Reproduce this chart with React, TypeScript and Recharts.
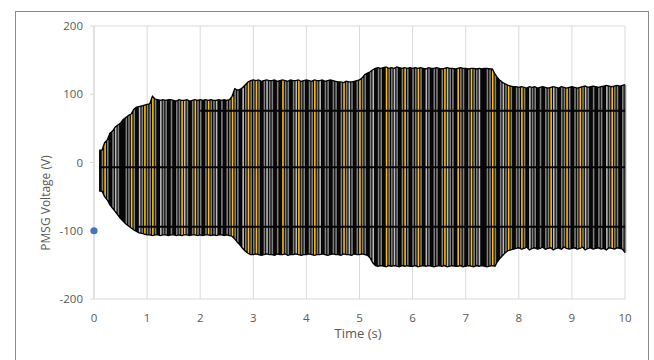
import {
  ComposedChart,
  Area,
  Bar,
  Cell,
  Line,
  Scatter,
  XAxis,
  YAxis,
  CartesianGrid,
  ReferenceLine,
} from 'recharts';

// sample instants (s), one visible stroke each
const strokeTimes = [
  0.1, 0.15, 0.2, 0.25, 0.3, 0.35, 0.4, 0.45, 0.5, 0.55, 0.6, 0.65, 0.7, 0.75, 0.8, 0.85, 0.9, 0.95,
  1.0, 1.05, 1.1, 1.15, 1.2, 1.25, 1.3, 1.35, 1.4, 1.45, 1.5, 1.55, 1.6, 1.65, 1.7, 1.75, 1.8, 1.85, 1.9, 1.95,
  2.0, 2.05, 2.1, 2.15, 2.2, 2.25, 2.3, 2.35, 2.4, 2.45, 2.5, 2.55, 2.6, 2.65, 2.7, 2.75, 2.8, 2.85, 2.9, 2.95,
  3.0, 3.05, 3.1, 3.15, 3.2, 3.25, 3.3, 3.35, 3.4, 3.45, 3.5, 3.55, 3.6, 3.65, 3.7, 3.75, 3.8, 3.85, 3.9, 3.95,
  4.0, 4.05, 4.1, 4.15, 4.2, 4.25, 4.3, 4.35, 4.4, 4.45, 4.5, 4.55, 4.6, 4.65, 4.7, 4.75, 4.8, 4.85, 4.9, 4.95,
  5.0, 5.05, 5.1, 5.15, 5.2, 5.25, 5.3, 5.35, 5.4, 5.45, 5.5, 5.55, 5.6, 5.65, 5.7, 5.75, 5.8, 5.85, 5.9, 5.95,
  6.0, 6.05, 6.1, 6.15, 6.2, 6.25, 6.3, 6.35, 6.4, 6.45, 6.5, 6.55, 6.6, 6.65, 6.7, 6.75, 6.8, 6.85, 6.9, 6.95,
  7.0, 7.05, 7.1, 7.15, 7.2, 7.25, 7.3, 7.35, 7.4, 7.45, 7.5, 7.55, 7.6, 7.65, 7.7, 7.75, 7.8, 7.85, 7.9, 7.95,
  8.0, 8.05, 8.1, 8.15, 8.2, 8.25, 8.3, 8.35, 8.4, 8.45, 8.5, 8.55, 8.6, 8.65, 8.7, 8.75, 8.8, 8.85, 8.9, 8.95,
  9.0, 9.05, 9.1, 9.15, 9.2, 9.25, 9.3, 9.35, 9.4, 9.45, 9.5, 9.55, 9.6, 9.65, 9.7, 9.75, 9.8, 9.85, 9.9, 9.95,
  10.0,
];

// positive peaks (V)
const upperPeaks = [
  18, 18, 29, 33, 43, 46, 52, 55, 58, 63, 66, 69, 71, 78, 81, 82, 83, 84,
  85, 86, 97, 93, 92, 91, 92, 91, 92, 92, 91, 90, 92, 91, 91, 92, 90, 91, 92, 91,
  92, 91, 92, 91, 92, 91, 91, 92, 91, 92, 91, 92, 97, 108, 106, 107, 110, 114, 118, 120,
  121, 120, 121, 119, 120, 121, 120, 120, 121, 119, 120, 121, 120, 119, 121, 120, 120, 121, 119, 120,
  121, 120, 119, 121, 120, 120, 121, 119, 120, 121, 120, 119, 118, 118, 117, 119, 118, 118, 119, 120,
  121, 124, 129, 131, 133, 136, 138, 139, 138, 139, 140, 138, 139, 138, 140, 139, 138, 139, 138, 139,
  138, 139, 138, 139, 138, 137, 139, 138, 138, 139, 138, 137, 138, 139, 138, 138, 137, 138, 139, 138,
  138, 137, 138, 138, 137, 138, 137, 138, 138, 137, 137, 130, 124, 120, 117, 115, 113, 112, 111, 111,
  110, 111, 110, 109, 111, 110, 111, 109, 110, 111, 110, 109, 110, 111, 110, 109, 111, 110, 109, 110,
  111, 110, 109, 110, 111, 112, 110, 111, 112, 111, 110, 111, 112, 113, 112, 111, 112, 113, 112, 113,
  114,
];

// negative peaks (V)
const lowerPeaks = [
  -42, -42, -50, -55, -62, -67, -72, -77, -82, -86, -90, -93, -96, -99, -101, -103, -104, -105,
  -106, -106, -107, -106, -106, -107, -106, -106, -107, -106, -106, -107, -106, -107, -106, -106, -107, -106, -106, -107,
  -106, -107, -106, -106, -107, -106, -107, -106, -106, -107, -106, -107, -108, -112, -117, -121, -126, -130, -133, -135,
  -135, -134, -135, -136, -135, -134, -135, -135, -136, -134, -135, -135, -134, -136, -135, -135, -134, -135, -136, -135,
  -135, -134, -135, -136, -135, -135, -134, -135, -136, -135, -134, -135, -135, -136, -134, -135, -135, -136, -134, -135,
  -135, -134, -135, -136, -140, -147, -151, -152, -151, -152, -153, -151, -152, -151, -152, -153, -151, -152, -151, -152,
  -152, -151, -153, -152, -151, -152, -151, -152, -153, -152, -151, -152, -151, -153, -152, -151, -152, -152, -151, -153,
  -152, -151, -152, -153, -151, -152, -151, -152, -153, -152, -151, -152, -145, -140, -136, -132, -129, -128, -127, -126,
  -125, -127, -126, -124, -128, -126, -125, -127, -126, -124, -127, -126, -125, -128, -126, -125, -127, -124, -126, -127,
  -126, -125, -127, -126, -124, -128, -126, -125, -127, -126, -125, -127, -126, -128, -125, -126, -127, -125, -126, -127,
  -132,
];

// which phase trace is on top at each stroke
const frontTrace = [
  'ABCBABbBAABBCBAbBC',
  'BBCBAbBBABABBCbBABCB',
  'BABCBBbABABBCBBAbBCB',
  'BCBABbBBABACBBABbCBB',
  'ABBCBbABBABBABCBbBAB',
  'CBBABbABBACBBbBABCBA',
  'BBCBAbBABBABCbBBACBB',
  'ABCBBbAABBCBABbBCBAB',
  'BCBAbBBABABBCbBABBCB',
  'ABBCBbBABABBAbBCBBAB',
  'B',
].join('');

// flat traces that run across the plot
const flatLevels = [76, -7, -94];
const flatStarts = [2.0, 0.1, 0.8];
const flatEnd = 10;

const markerPoints = [{ t: 0, v: -100 }];

const xTicks = [0, 1, 2, 3, 4, 5, 6, 7, 8, 9, 10];
const yTicks = [-200, -100, 0, 100, 200];

const traceColors: Record<string, string> = {
  A: '#0a0a0a',
  B: '#808080',
  b: '#bdbdbd',
  C: '#ffc000',
};

const rows = strokeTimes.map((t, i) => ({
  t,
  hi: upperPeaks[i],
  lo: lowerPeaks[i],
  band: [lowerPeaks[i], upperPeaks[i]],
  trace: frontTrace[i] || 'B',
}));

const tickStyle = { fill: '#595959', fontSize: 11.5, fontFamily: '"Open Sans", sans-serif' };

export default function App() {
  return (
    <div
      style={{
        position: 'absolute',
        left: 0,
        top: 0,
        width: 654,
        height: 360,
        background: '#fff',
        overflow: 'hidden',
        fontFamily: '"Open Sans", sans-serif',
      }}
    >
      <div
        style={{
          position: 'absolute',
          left: 15,
          top: 11,
          width: 632,
          height: 360,
          border: '1px solid #8a8a8a',
        }}
      />
      <div style={{ position: 'absolute', left: 0, top: 0 }}>
        <ComposedChart
          width={654}
          height={360}
          data={rows}
          margin={{ top: 26, right: 29, bottom: 21, left: 24 }}
        >
          <CartesianGrid horizontal={false} stroke="#d9d9d9" />
          <XAxis
            dataKey="t"
            type="number"
            domain={[0, 10]}
            ticks={xTicks}
            height={40}
            stroke="#d9d9d9"
            tickLine={false}
            tickSize={5}
            tickMargin={10}
            tick={tickStyle}
          />
          <YAxis
            type="number"
            domain={[-200, 200]}
            ticks={yTicks}
            width={70}
            stroke="#d9d9d9"
            tickSize={4}
            tickMargin={7}
            tick={tickStyle}
          />
          <ReferenceLine y={200} stroke="#d9d9d9" />
          <Area
            dataKey="band"
            fill="#000"
            fillOpacity={1}
            stroke="none"
            isAnimationActive={false}
          />
          <Bar dataKey="band" barSize={1.6} isAnimationActive={false}>
            {rows.map((r, i) => (
              <Cell key={i} fill={traceColors[r.trace]} />
            ))}
          </Bar>
          <Line dataKey="hi" stroke="#000" strokeWidth={1.3} dot={false} isAnimationActive={false} />
          <Line dataKey="lo" stroke="#000" strokeWidth={1.3} dot={false} isAnimationActive={false} />
          {flatLevels.map((lv, i) => (
            <ReferenceLine
              key={i}
              segment={[
                { x: flatStarts[i], y: lv },
                { x: flatEnd, y: lv },
              ]}
              stroke="#000"
              strokeWidth={2}
            />
          ))}
          <Scatter
            data={markerPoints}
            dataKey="v"
            isAnimationActive={false}
            shape={(p: any) => <circle cx={p.cx} cy={p.cy} r={3.6} fill="#4472c4" />}
          />
        </ComposedChart>
      </div>
      <div
        style={{
          position: 'absolute',
          left: 45,
          top: 203,
          transform: 'translate(-50%, -50%) rotate(-90deg)',
          whiteSpace: 'nowrap',
          fontSize: 12,
          color: '#595959',
        }}
      >
        PMSG Voltage (V)
      </div>
      <div
        style={{
          position: 'absolute',
          left: 358,
          top: 333,
          transform: 'translate(-50%, -50%)',
          whiteSpace: 'nowrap',
          fontSize: 13,
          color: '#595959',
        }}
      >
        Time (s)
      </div>
    </div>
  );
}
